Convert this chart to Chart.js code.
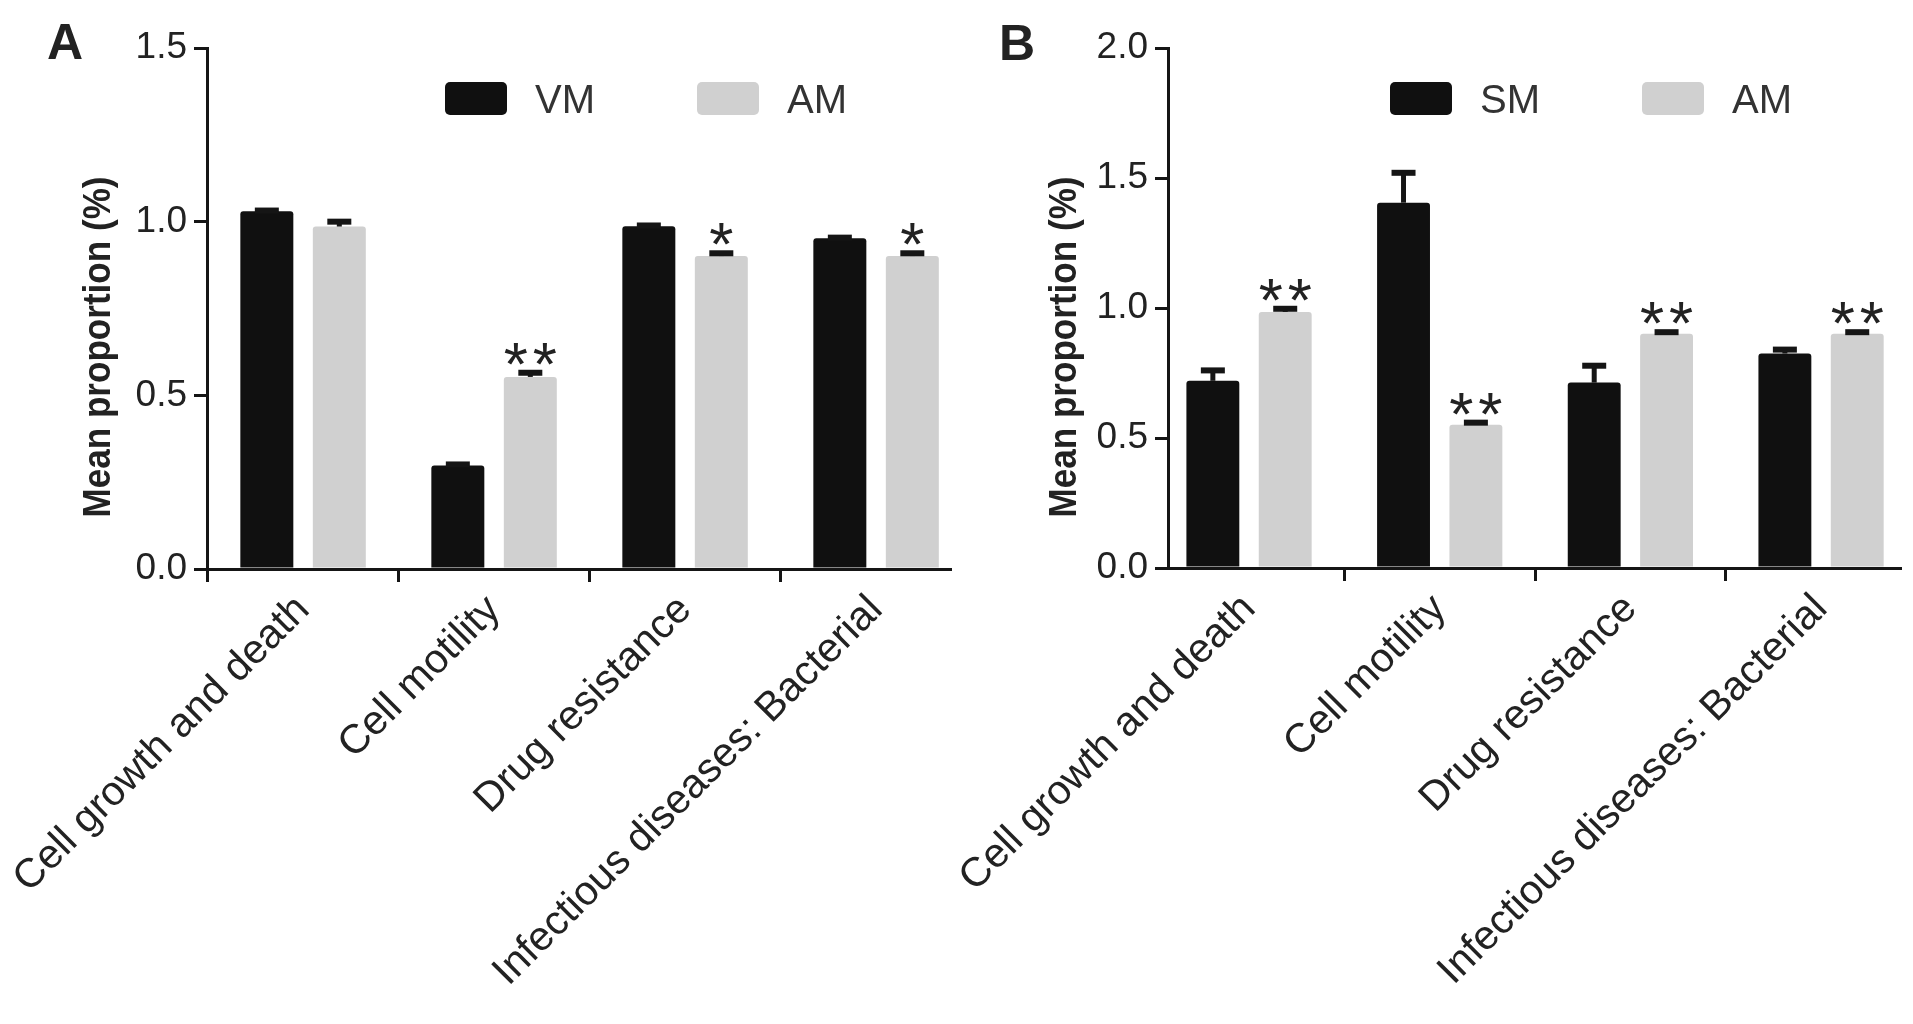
<!DOCTYPE html>
<html>
<head>
    <meta charset='utf-8'>
    <title>Mean proportion</title>
    <script src="https://cdn.jsdelivr.net/npm/chart.js"></script>
    <style>
        body { margin: 0; background: #fff; }
        .panels { position: relative; width: 1913px; height: 1024px; }
        #chartA { position: absolute; left: 0; top: 0; }
        #chartB { position: absolute; left: 956px; top: 0; }
    </style>
</head>
<body>
<div class="panels">
    <canvas id="chartA" width="956" height="1024"></canvas>
    <canvas id="chartB" width="957" height="1024"></canvas>
</div>
<script>
    var categories = ['Cell growth and death', 'Cell motility', 'Drug resistance', 'Infectious diseases: Bacterial'];

    // panel A: VM vs AM
    var vmMean = [1.03, 0.298, 0.987, 0.952];
    var vmErr = [0.002, 0.003, 0.002, 0.002];
    var amMeanA = [0.986, 0.553, 0.901, 0.901];
    var amErrA = [0.014, 0.012, 0.008, 0.008];
    var amSigA = ['', '**', '*', '*'];
    var yTicksA = [0, 0.5, 1.0, 1.5];

    // panel B: SM vs AM
    var smMean = [0.720, 1.405, 0.713, 0.825];
    var smErr = [0.04, 0.115, 0.065, 0.015];
    var amMeanB = [0.985, 0.551, 0.901, 0.901];
    var amErrB = [0.012, 0.008, 0.006, 0.006];
    var amSigB = ['**', '**', '**', '**'];
    var yTicksB = [0, 0.5, 1.0, 1.5, 2.0];

    const FONT = '"Liberation Sans", Arial, Helvetica, sans-serif';
    const INK = '#151515';
    const TEXT = '#222222';
    const DARK = '#101010';
    const GREY = '#d0d0d0';

    Chart.defaults.font.family = FONT;

    // error bars (upper only) + significance stars
    const errorBars = {
        id: 'errorBars',
        afterDatasetsDraw(chart) {
            const ctx = chart.ctx;
            const y = chart.scales.y;
            chart.data.datasets.forEach((ds, d) => {
                const meta = chart.getDatasetMeta(d);
                meta.data.forEach((bar, i) => {
                    const top = y.getPixelForValue(ds.data[i].y + ds.errors[i]);
                    ctx.save();
                    ctx.strokeStyle = INK;
                    ctx.lineWidth = 5;
                    ctx.beginPath();
                    ctx.moveTo(bar.x, bar.y);
                    ctx.lineTo(bar.x, top);
                    ctx.stroke();
                    ctx.lineWidth = 6;
                    ctx.beginPath();
                    ctx.moveTo(bar.x - 12, top);
                    ctx.lineTo(bar.x + 12, top);
                    ctx.stroke();
                    const sig = ds.sig ? ds.sig[i] : '';
                    if (sig) {
                        ctx.fillStyle = TEXT;
                        ctx.font = '62px ' + FONT;
                        ctx.textAlign = 'center';
                        ctx.textBaseline = 'alphabetic';
                        for (let k = 0; k < sig.length; k++) {
                            ctx.fillText(sig[k], bar.x + (k - (sig.length - 1) / 2) * 29, top + 12);
                        }
                    }
                    ctx.restore();
                });
            });
        }
    };

    const boxLegend = {
        id: 'boxLegend',
        afterDraw(chart, args, opts) {
            const ctx = chart.ctx;
            chart.data.datasets.forEach((ds, d) => {
                const x = opts.x + d * opts.step;
                ctx.save();
                ctx.fillStyle = ds.backgroundColor;
                ctx.beginPath();
                ctx.roundRect(x, opts.y, 62, 33, 5);
                ctx.fill();
                ctx.fillStyle = '#333';
                ctx.font = '40px ' + FONT;
                ctx.textAlign = 'left';
                ctx.textBaseline = 'alphabetic';
                ctx.fillText(ds.label, x + 90, opts.y + 31);
                ctx.restore();
            });
        }
    };

    const panelText = {
        id: 'panelText',
        afterDraw(chart, args, opts) {
            const ctx = chart.ctx;
            const title = 'Mean proportion (%)';
            ctx.save();
            ctx.fillStyle = TEXT;
            ctx.font = 'bold 50px ' + FONT;
            ctx.textAlign = 'left';
            ctx.textBaseline = 'alphabetic';
            ctx.fillText(opts.letter, opts.letterX, opts.letterY);
            ctx.translate(opts.titleX, opts.titleY);
            ctx.rotate(-Math.PI / 2);
            ctx.font = 'bold 38px ' + FONT;
            ctx.scale(opts.titleLength / ctx.measureText(title).width, 1);
            ctx.textAlign = 'center';
            ctx.textBaseline = 'middle';
            ctx.fillText(title, 0, 0);
            ctx.restore();
        }
    };

    function panelOptions(p) {
        return {
            responsive: false,
            animation: false,
            events: [],
            layout: { padding: { top: 48, right: p.padRight, left: 0, bottom: 0 } },
            datasets: {
                bar: { categoryPercentage: 0.759, barPercentage: 0.731, borderRadius: 3, borderSkipped: 'start' }
            },
            scales: {
                x: {
                    type: 'linear',
                    min: p.xMin,
                    max: p.xMax,
                    offset: false,
                    border: { color: INK, width: 3 },
                    grid: { drawOnChartArea: false, color: INK, lineWidth: 3, tickLength: 13 },
                    afterBuildTicks: s => { s.ticks = categories.map((c, i) => ({ value: i })); },
                    afterFit: s => { s.height = p.xHeight; s.paddingLeft = 0; s.paddingRight = 0; },
                    ticks: {
                        autoSkip: false, minRotation: 45, maxRotation: 45, padding: 4,
                        color: TEXT, font: { size: 41 },
                        callback: v => categories[v]
                    }
                },
                y: {
                    min: 0,
                    max: p.yMax,
                    border: { color: INK, width: 3 },
                    grid: { drawOnChartArea: false, color: INK, lineWidth: 3, tickLength: 13 },
                    afterBuildTicks: s => { s.ticks = p.yTicks.map(v => ({ value: v })); },
                    afterFit: s => { s.width = p.yWidth; s.paddingTop = 0; s.paddingBottom = 0; },
                    ticks: {
                        padding: 7, color: TEXT, font: { size: 37 },
                        callback: v => v.toFixed(1)
                    }
                }
            },
            plugins: {
                legend: { display: false },
                tooltip: { enabled: false },
                boxLegend: { x: p.legendX, step: 252, y: 82 },
                panelText: p.text
            }
        };
    }

    function points(values) {
        return values.map((v, i) => ({ x: i, y: v }));
    }

    new Chart(document.getElementById('chartA'), {
        type: 'bar',
        data: {
            datasets: [
                { label: 'VM', data: points(vmMean), errors: vmErr, backgroundColor: DARK },
                { label: 'AM', data: points(amMeanA), errors: amErrA, sig: amSigA, backgroundColor: GREY }
            ]
        },
        options: panelOptions({
            padRight: 6, yWidth: 207, xHeight: 455, xMin: -0.503, xMax: 3.387,
            yMax: 1.5, yTicks: yTicksA, legendX: 445,
            text: { letter: 'A', letterX: 47, letterY: 59, titleX: 100, titleY: 347, titleLength: 341 }
        }),
        plugins: [errorBars, boxLegend, panelText]
    });

    new Chart(document.getElementById('chartB'), {
        type: 'bar',
        data: {
            datasets: [
                { label: 'SM', data: points(smMean), errors: smErr, backgroundColor: DARK },
                { label: 'AM', data: points(amMeanB), errors: amErrB, sig: amSigB, backgroundColor: GREY }
            ]
        },
        options: panelOptions({
            padRight: 13, yWidth: 212, xHeight: 456, xMin: -0.425, xMax: 3.414,
            yMax: 2.0, yTicks: yTicksB, legendX: 434,
            text: { letter: 'B', letterX: 43, letterY: 60, titleX: 110, titleY: 347, titleLength: 341 }
        }),
        plugins: [errorBars, boxLegend, panelText]
    });
</script>
</body>
</html>
